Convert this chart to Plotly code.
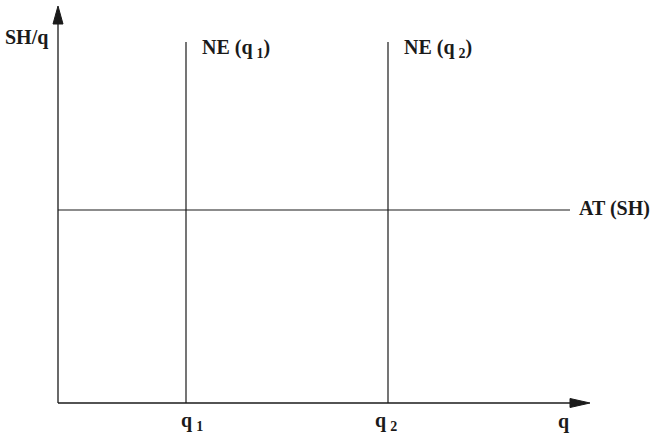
import plotly.graph_objects as go

# -----------------------------------------------------------------------------
# Diagram values (origin of the axes at 0, 0)
# -----------------------------------------------------------------------------
q_names = ["q\u2009<sub>1</sub>", "q\u2009<sub>2</sub>"]
q_values = [128, 330]          # positions of NE(q1) and NE(q2)
ne_top = 361                   # height reached by the NE lines
at_level = 193                 # AT(SH) horizontal line
at_end = 512
x_axis_end = 532
y_axis_end = 397

INK = "#1a1a1a"
FONT = dict(family="Liberation Serif, Times New Roman, serif", size=20, color=INK, weight="bold")

fig = go.Figure()

# axes
fig.add_trace(go.Scatter(x=[0, x_axis_end - 18], y=[0, 0], mode="lines",
                         line=dict(color=INK, width=1.3), hoverinfo="skip"))
fig.add_trace(go.Scatter(x=[0, 0], y=[0, y_axis_end - 16], mode="lines",
                         line=dict(color=INK, width=1.3), hoverinfo="skip"))

# arrowheads
fig.add_trace(go.Scatter(x=[x_axis_end, x_axis_end - 20, x_axis_end - 20, x_axis_end],
                         y=[0, 4.5, -4.5, 0], mode="lines", fill="toself",
                         fillcolor=INK, line=dict(color=INK, width=1), hoverinfo="skip"))
fig.add_trace(go.Scatter(x=[0, -5, 5, 0],
                         y=[y_axis_end, y_axis_end - 18, y_axis_end - 18, y_axis_end],
                         mode="lines", fill="toself",
                         fillcolor=INK, line=dict(color=INK, width=1), hoverinfo="skip"))

# NE lines
for q in q_values:
    fig.add_trace(go.Scatter(x=[q, q], y=[0, ne_top], mode="lines",
                             line=dict(color=INK, width=1.2), hoverinfo="skip"))

# AT line
fig.add_trace(go.Scatter(x=[0, at_end], y=[at_level, at_level], mode="lines",
                         line=dict(color=INK, width=1.2), hoverinfo="skip"))

# labels
fig.add_annotation(x=-8, y=366, text="SH/q", xanchor="right", yanchor="middle")
for name, q, dx in zip(q_names, q_values, [6, -2]):
    fig.add_annotation(x=q + 14, y=355, text=f"NE ({name})", xanchor="left", yanchor="middle")
    fig.add_annotation(x=q + dx, y=-18, text=name, xanchor="center", yanchor="middle")
fig.add_annotation(x=at_end + 7, y=at_level + 2, text="AT (SH)", xanchor="left", yanchor="middle")
fig.add_annotation(x=505, y=-18, text="q", xanchor="center", yanchor="middle")
fig.update_annotations(showarrow=False, font=FONT)

fig.update_layout(
    width=652, height=438,
    margin=dict(t=0, b=0, l=0, r=0),
    plot_bgcolor="white", paper_bgcolor="white",
    showlegend=False,
)
fig.update_xaxes(range=[-58, 594], visible=False, fixedrange=True)
fig.update_yaxes(range=[-35, 403], visible=False, fixedrange=True)

# drop the default body margin so the figure sits flush in the window
fig.write_html("out.html", config=dict(displayModeBar=False),
               post_script="document.body.style.margin='0';")
